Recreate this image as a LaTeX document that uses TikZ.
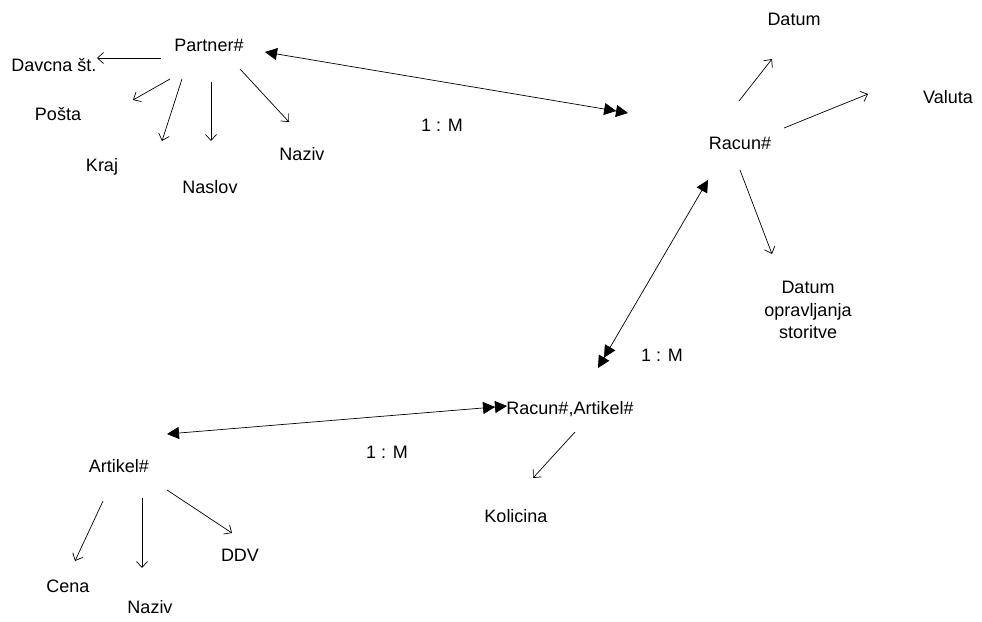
\documentclass[tikz,border=0pt]{standalone}
\usepackage{fontspec}
\setmainfont{Liberation Sans}
\usetikzlibrary{arrows.meta}
\begin{document}
\begin{tikzpicture}[x=1pt,y=-1pt,
  every node/.style={font=\fontsize{18}{22.5}\selectfont, inner sep=0pt},
  attr/.style={line width=0.7pt, -{Straight Barb[length=6pt,width=11pt]}},
  rel/.style={line width=0.7pt, {Triangle[length=12pt,width=12pt]}-{Triangle[length=12pt,width=12pt]Triangle[length=12pt,width=12pt]}}
]
\useasboundingbox (0,0) rectangle (982,621);

% entity keys
\node (partner) at (209,45) {Partner\#};
\node (racun) at (740,143) {Racun\#};
\node (postavka) at (570,409) {Racun\#,Artikel\#};
\node (artikel) at (119,466) {Artikel\#};

% attributes of Partner#
\node (davcna) at (54,65) {Davcna št.};
\node (posta) at (58,114) {Pošta};
\node (kraj) at (102,167) {Kraj};
\node (naslov) at (210,187) {Naslov};
\node (naziv1) at (302,154) {Naziv};

% attributes of Racun#
\node (datum) at (794,19) {Datum};
\node (valuta) at (948,97) {Valuta};
\node[align=center] (dos) at (808,310) {Datum\\opravljanja\\storitve};

% attributes of Racun#,Artikel#
\node (kolicina) at (516,516) {Kolicina};

% attributes of Artikel#
\node (cena) at (68,586) {Cena};
\node (naziv2) at (150,607) {Naziv};
\node (ddv) at (240,555) {DDV};

% cardinality labels
\node (c1) at (442,125) {1 : M};
\node (c2) at (662,355) {1 : M};
\node (c3) at (387,452) {1 : M};

% arrow anchor points
\coordinate (p1) at (161,58);   \coordinate (d1) at (97,58);
\coordinate (p2) at (170,79);   \coordinate (d2) at (133,100);
\coordinate (p3) at (182,79);   \coordinate (d3) at (162,141);
\coordinate (p4) at (211,82);   \coordinate (d4) at (211,141);
\coordinate (p5) at (240,69);   \coordinate (d5) at (289,122);

\coordinate (r1) at (739,101);  \coordinate (e1) at (772,59);
\coordinate (r2) at (784,128);  \coordinate (e2) at (868,94);
\coordinate (r3) at (740,170);  \coordinate (e3) at (772,254);

\coordinate (k1) at (575,432);  \coordinate (f1) at (533,478);

\coordinate (a1) at (103,501);  \coordinate (g1) at (75,561);
\coordinate (a2) at (142,498);  \coordinate (g2) at (142,568);
\coordinate (a3) at (167,490);  \coordinate (g3) at (232,533);

\coordinate (rp1) at (265,52);  \coordinate (rp2) at (628,113);
\coordinate (rr1) at (708,180); \coordinate (rr2) at (598,368);
\coordinate (ra1) at (167,434); \coordinate (ra2) at (507,406);

% attribute arrows
\draw[attr] (p1) -- (d1);
\draw[attr] (p2) -- (d2);
\draw[attr] (p3) -- (d3);
\draw[attr] (p4) -- (d4);
\draw[attr] (p5) -- (d5);
\draw[attr] (r1) -- (e1);
\draw[attr] (r2) -- (e2);
\draw[attr] (r3) -- (e3);
\draw[attr] (k1) -- (f1);
\draw[attr] (a1) -- (g1);
\draw[attr] (a2) -- (g2);
\draw[attr] (a3) -- (g3);

% one-to-many relationships
\draw[rel] (rp1) -- (rp2);
\draw[rel] (rr1) -- (rr2);
\draw[rel] (ra1) -- (ra2);
\end{tikzpicture}
\end{document}
